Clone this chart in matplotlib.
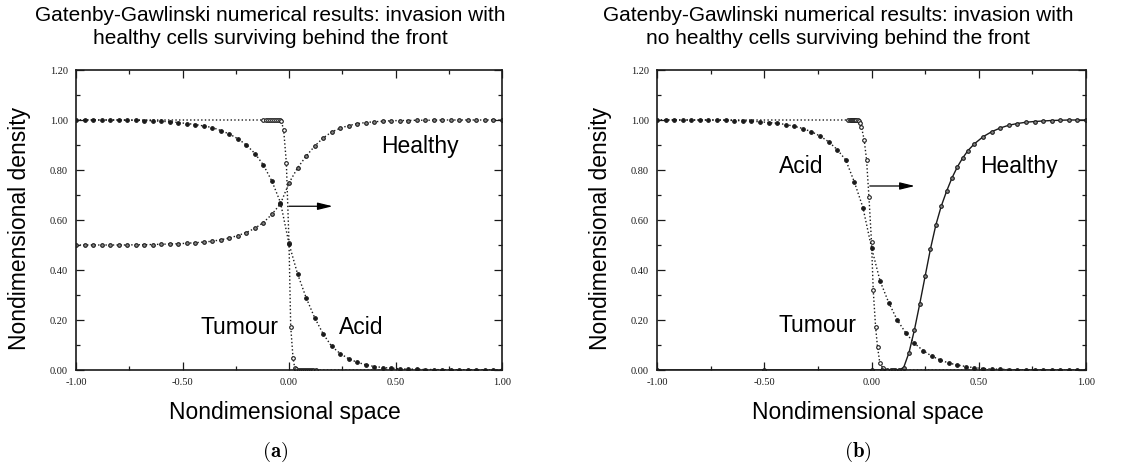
import matplotlib
matplotlib.use("Agg")
import matplotlib.pyplot as plt
from matplotlib.ticker import MultipleLocator, FormatStrFormatter

plt.rcParams['mathtext.fontset'] = 'cm'

# ---------------- data ----------------
x_grid = [-1.00, -0.96, -0.92, -0.88, -0.84, -0.80, -0.76, -0.72, -0.68, -0.64,
          -0.60, -0.56, -0.52, -0.48, -0.44, -0.40, -0.36, -0.32, -0.28, -0.24,
          -0.20, -0.16, -0.12, -0.08, -0.04, 0.00, 0.04, 0.08, 0.12, 0.16,
          0.20, 0.24, 0.28, 0.32, 0.36, 0.40, 0.44, 0.48, 0.52, 0.56,
          0.60, 0.64, 0.68, 0.72, 0.76, 0.80, 0.84, 0.88, 0.92, 0.96, 1.00]

# panel (a): healthy cells surviving behind the front
acid_a = [1.000, 1.000, 1.000, 1.000, 1.000, 1.000, 0.999, 0.999, 0.998, 0.997,
          0.995, 0.993, 0.990, 0.986, 0.982, 0.976, 0.970, 0.958, 0.944, 0.925,
          0.900, 0.866, 0.820, 0.755, 0.670, 0.505, 0.385, 0.290, 0.210, 0.145,
          0.095, 0.066, 0.045, 0.031, 0.021, 0.014, 0.010, 0.007, 0.005, 0.004,
          0.003, 0.002, 0.002, 0.001, 0.001, 0.001, 0.001, 0.000, 0.000, 0.000, 0.000]
healthy_a = [0.500, 0.500, 0.500, 0.500, 0.500, 0.500, 0.500, 0.501, 0.501, 0.502,
             0.503, 0.504, 0.505, 0.507, 0.509, 0.512, 0.515, 0.521, 0.528, 0.538,
             0.550, 0.567, 0.590, 0.623, 0.665, 0.748, 0.808, 0.855, 0.895, 0.928,
             0.952, 0.967, 0.978, 0.985, 0.990, 0.993, 0.995, 0.997, 0.998, 0.998,
             0.999, 0.999, 0.999, 1.000, 1.000, 1.000, 1.000, 1.000, 1.000, 1.000, 1.000]
tumour_a_x = [-1.00, -0.12, -0.11, -0.10, -0.09, -0.08, -0.07, -0.06, -0.05, -0.04,
              -0.036, -0.025, -0.0125, 0.000, 0.008, 0.019, 0.027, 0.035, 0.045, 0.055,
              0.065, 0.075, 0.085, 0.095, 0.105, 0.115, 0.125, 1.00]
tumour_a = [1.000, 1.000, 1.000, 1.000, 1.000, 1.000, 1.000, 1.000, 1.000, 0.999,
            0.995, 0.960, 0.830, 0.510, 0.174, 0.047, 0.008, 0.003, 0.002, 0.001,
            0.001, 0.001, 0.000, 0.000, 0.000, 0.000, 0.000, 0.000]

# panel (b): no healthy cells surviving behind the front
acid_b = [1.000, 1.000, 1.000, 1.000, 1.000, 1.000, 1.000, 1.000, 0.999, 0.998,
          0.997, 0.995, 0.993, 0.990, 0.987, 0.982, 0.975, 0.966, 0.953, 0.936,
          0.913, 0.882, 0.840, 0.752, 0.650, 0.490, 0.356, 0.270, 0.200, 0.148,
          0.107, 0.078, 0.056, 0.040, 0.028, 0.020, 0.014, 0.009, 0.006, 0.004,
          0.003, 0.002, 0.001, 0.001, 0.001, 0.001, 0.000, 0.000, 0.000, 0.000, 0.000]
healthy_b_x = [-1.00, -0.50, 0.00, 0.05, 0.10, 0.13, 0.15, 0.175, 0.20, 0.225,
               0.25, 0.275, 0.30, 0.325, 0.35, 0.375, 0.40, 0.425, 0.45, 0.48,
               0.52, 0.56, 0.60, 0.64, 0.68, 0.72, 0.76, 0.80, 0.84, 0.88,
               0.92, 0.96, 1.00]
healthy_b = [0.000, 0.000, 0.000, 0.000, 0.000, 0.001, 0.010, 0.070, 0.160, 0.265,
             0.375, 0.485, 0.580, 0.655, 0.715, 0.768, 0.812, 0.848, 0.878, 0.905,
             0.933, 0.953, 0.968, 0.979, 0.986, 0.991, 0.994, 0.996, 0.998, 0.999,
             1.000, 1.000, 1.000]
tumour_b_x = [-1.00, -0.11, -0.10, -0.095, -0.09, -0.085, -0.08, -0.075, -0.07, -0.065,
              -0.06, -0.055, -0.047, -0.034, -0.023, -0.012, 0.000, 0.008, 0.019, 0.028,
              0.039, 0.054, 0.070, 0.090, 0.110, 1.00]
tumour_b = [1.000, 1.000, 1.000, 1.000, 1.000, 1.000, 1.000, 1.000, 1.000, 0.999,
            0.997, 0.990, 0.973, 0.920, 0.840, 0.693, 0.513, 0.320, 0.173, 0.093,
            0.027, 0.007, 0.001, 0.000, 0.000, 0.000]

titles = ["Gatenby-Gawlinski numerical results: invasion with\nhealthy cells surviving behind the front",
          "Gatenby-Gawlinski numerical results: invasion with\nno healthy cells surviving behind the front"]
captions = [r"$\mathbf{(a)}$", r"$\mathbf{(b)}$"]
xticks = [-1.0, -0.5, 0.0, 0.5, 1.0]
yticks = [0.0, 0.2, 0.4, 0.6, 0.8, 1.0, 1.2]

# label placements (data coords)
labels_a = [("Healthy", 0.614, 0.896), ("Tumour", -0.234, 0.172), ("Acid", 0.34, 0.172)]
labels_b = [("Acid", -0.33, 0.813), ("Healthy", 0.688, 0.813), ("Tumour", -0.25, 0.18)]
arrow_a = ((0.0, 0.655), (0.205, 0.655))
arrow_b = ((-0.008, 0.736), (0.202, 0.736))

# ---------------- drawing ----------------
fig = plt.figure(figsize=(11.26, 4.67), dpi=100)
ax_a = fig.add_axes([76/1126, 97/467, 426/1126, 300/467])
ax_b = fig.add_axes([657/1126, 97/467, 429/1126, 300/467])

ink = '#1a1a1a'
sans = ['Liberation Sans', 'DejaVu Sans']
serif = ['Liberation Serif', 'DejaVu Serif']


def style(ax):
    ax.set_xlim(-1.0, 1.0)
    ax.set_ylim(0.0, 1.2)
    ax.set_xticks(xticks)
    ax.set_yticks(yticks)
    ax.xaxis.set_minor_locator(MultipleLocator(0.25))
    ax.yaxis.set_minor_locator(MultipleLocator(0.1))
    ax.xaxis.set_major_formatter(FormatStrFormatter('%.2f'))
    ax.yaxis.set_major_formatter(FormatStrFormatter('%.2f'))
    ax.tick_params(which='both', direction='in', top=True, right=True,
                   colors=ink, width=0.9)
    ax.tick_params(which='major', length=6, labelsize=7.5, pad=6)
    ax.tick_params(which='minor', length=3)
    for lab in ax.get_xticklabels() + ax.get_yticklabels():
        lab.set_family(serif)
    for sp in ax.spines.values():
        sp.set_linewidth(1.2)
        sp.set_color(ink)
    w = ax.get_position().width * 1126
    ax.set_xlabel("Nondimensional space", fontsize=16.5, family=sans)
    ax.xaxis.set_label_coords(0.5 - 4 / w, -43 / 300)
    ax.xaxis.label.set_verticalalignment('center')
    ax.set_ylabel("Nondimensional density", fontsize=16.5, family=sans)
    ax.yaxis.set_label_coords(-56 / w, 142 / 300)
    ax.yaxis.label.set_verticalalignment('center')
    return w


mk = dict(marker='o', markersize=2.6, markeredgewidth=0.8, color=ink)

# panel a
ax_a.plot(tumour_a_x, tumour_a, linestyle=':', linewidth=1.0, markerfacecolor='white',
          markevery=list(range(1, len(tumour_a_x) - 1)), **mk)
ax_a.plot(x_grid, healthy_a, linestyle=':', linewidth=1.0, markerfacecolor='#888888', **mk)
ax_a.plot(x_grid, acid_a, linestyle=':', linewidth=1.0, markerfacecolor=ink, **mk)

# panel b
ax_b.plot(tumour_b_x, tumour_b, linestyle=':', linewidth=1.0, markerfacecolor='white',
          markevery=list(range(1, len(tumour_b_x) - 1)), **mk)
ax_b.plot(healthy_b_x, healthy_b, linestyle='-', linewidth=1.0, markerfacecolor='#888888', **mk)
ax_b.plot(x_grid, acid_b, linestyle=':', linewidth=1.0, markerfacecolor=ink, **mk)

title_centres = [270, 838]
for ax, title, cap, labels, arr, tc in [(ax_a, titles[0], captions[0], labels_a, arrow_a, title_centres[0]),
                                        (ax_b, titles[1], captions[1], labels_b, arrow_b, title_centres[1])]:
    w = style(ax)
    left = ax.get_position().x0 * 1126
    ax.set_title(title, fontsize=15, family=sans, pad=19, linespacing=1.25,
                 x=(tc - left) / w)
    for txt, tx, ty in labels:
        ax.text(tx, ty, txt, fontsize=16.5, family=sans, ha='center', va='center', color='black')
    ax.annotate('', xy=arr[1], xytext=arr[0],
                arrowprops=dict(arrowstyle='-|>,head_length=0.9,head_width=0.22',
                                color='black', lw=0.9, shrinkA=0, shrinkB=0))
    ax.text(0.5 - 14 / w, -82 / 300, cap, transform=ax.transAxes, fontsize=15,
            ha='center', va='center')

fig.savefig('out.png', dpi=100)
